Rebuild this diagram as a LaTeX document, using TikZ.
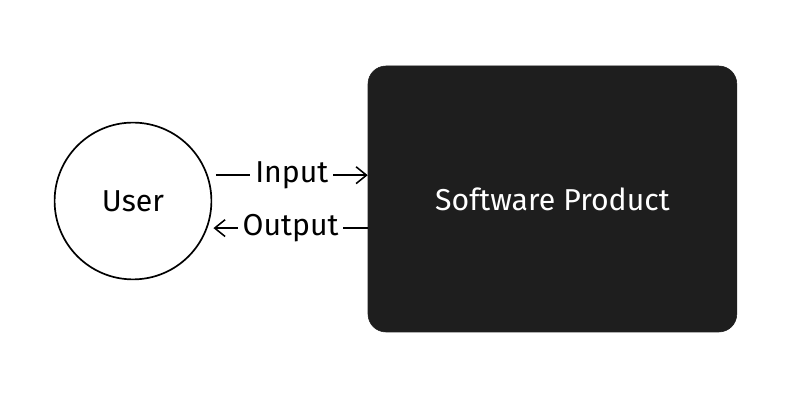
\documentclass[tikz,border=0pt]{standalone}
\usepackage{fontspec}
\setmainfont{Fira Sans}
\usetikzlibrary{arrows.meta}
\definecolor{boxfill}{HTML}{1E1E1E}
\tikzset{
	actor/.style = {circle, draw, line width = 1.2pt, minimum size = 3.92cm, inner sep = 0pt},
	system/.style = {rectangle, draw = boxfill, fill = boxfill, text = white, rounded corners = 0.45cm,
		minimum width = 9.22cm, minimum height = 6.65cm},
	flow/.style = {-{Straight Barb[length = 2.6mm, width = 4.2mm]}, line width = 1.1pt},
	flowlabel/.style = {fill = white, inner sep = 3.5pt}
}
\begin{document}
\begin{tikzpicture}[font = \fontsize{21.5}{25}\selectfont]
	\useasboundingbox (0, 0) rectangle (20, 10.05);
	%Nodes
	\node[actor] (user) at (3.325, 5.025) {User};
	\node[system] (product) at (13.81, 5.075) {Software Product};
	%Arrows
	\draw[flow] ([xshift = 0.2cm]user.19) -- (user.19 -| product.west)
		node[flowlabel, midway] {Input};
	\draw[flow] (user.-20 -| product.west) -- ([xshift = 0.15cm]user.-20)
		node[flowlabel, midway] {Output};
\end{tikzpicture}
\end{document}
